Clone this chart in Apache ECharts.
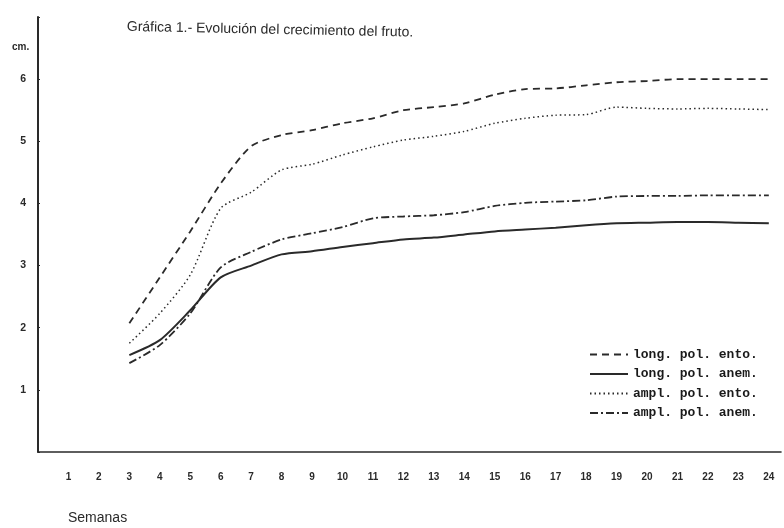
<!DOCTYPE html>
<html>
<head>
<meta charset="utf-8">
<script src="https://cdn.jsdelivr.net/npm/echarts@6/dist/echarts.min.js"></script>
<style>html,body{margin:0;padding:0;background:#fff}#c{width:784px;height:528px}</style>
</head>
<body>
<div id="c"></div>
<script>
var weeks = [3,4,5,6,7,8,9,10,11,12,13,14,15,16,17,18,19,20,21,22,23,24];
var longEnto = [2.07,2.81,3.55,4.32,4.92,5.10,5.18,5.29,5.37,5.50,5.55,5.61,5.75,5.84,5.85,5.90,5.95,5.97,6.00,6.00,6.00,6.00];
var longAnem = [1.56,1.80,2.28,2.81,3.00,3.18,3.23,3.30,3.36,3.42,3.45,3.50,3.55,3.58,3.61,3.65,3.68,3.69,3.70,3.70,3.69,3.68];
var amplEnto = [1.75,2.23,2.85,3.92,4.18,4.54,4.63,4.78,4.91,5.02,5.08,5.16,5.29,5.37,5.42,5.43,5.55,5.53,5.52,5.53,5.52,5.51];
var amplAnem = [1.43,1.72,2.23,2.97,3.22,3.42,3.52,3.62,3.76,3.79,3.81,3.86,3.96,4.01,4.03,4.05,4.11,4.12,4.12,4.13,4.13,4.13];
var seriesNames = ['long. pol. ento.','long. pol. anem.','ampl. pol. ento.','ampl. pol. anem.'];
var titleText = 'Gráfica 1.- Evolución del crecimiento del fruto.';
var xName = 'Semanas';
var yUnit = 'cm.';

function pairs(vals){ return weeks.map(function(w,i){ return [w, vals[i]]; }); }
var ink = '#2a2a2a';
function mk(name, vals, type, width){
  return { name:name, type:'line', data:pairs(vals), smooth:0.25, symbol:'none', showSymbol:false,
    lineStyle:{ color:ink, width:width, type:type }, itemStyle:{color:ink} };
}
var chart = echarts.init(document.getElementById('c'), null, {renderer:'canvas'});
chart.setOption({
  backgroundColor:'#fff',
  animation:false,
  grid:{ left:38, right:2, top:17, bottom:76, containLabel:false },
  xAxis:{ type:'value', min:0, max:24.4, interval:1,
    axisLine:{ show:true, lineStyle:{ color:ink, width:1.6 } },
    axisTick:{ show:false }, splitLine:{ show:false },
    axisLabel:{ margin:20, color:ink, fontFamily:'Liberation Sans', fontWeight:'bold', fontSize:10,
      formatter:function(v){ return (v>=1 && v<=24 && Math.abs(v-Math.round(v))<1e-9) ? String(v) : ''; } }
  },
  yAxis:{ type:'value', min:0, max:7, interval:1,
    axisLine:{ show:true, lineStyle:{ color:ink, width:2 } },
    axisTick:{ show:true, inside:true, length:2, lineStyle:{color:ink} }, splitLine:{ show:false },
    axisLabel:{ margin:12, color:ink, fontFamily:'Liberation Sans', fontWeight:'bold', fontSize:10.5,
      formatter:function(v){ return (v>=1 && v<=6) ? String(v) : ''; } }
  },
  legend:{ left:589, top:348, orient:'vertical', padding:0, itemWidth:38, itemHeight:12, itemGap:6.5,
    itemStyle:{ opacity:0 },
    textStyle:{ fontFamily:'Liberation Mono', fontWeight:'bold', fontSize:13, color:'#1a1a1a' },
    data:seriesNames },
  series:[
    mk(seriesNames[0], longEnto, [7,5], 1.8),
    mk(seriesNames[1], longAnem, 'solid', 2),
    mk(seriesNames[2], amplEnto, [1.5,3], 1.5),
    mk(seriesNames[3], amplAnem, [8,3,2,3], 1.8)
  ],
  graphic:[
    { type:'text', x:127, y:20, rotation:-0.02, style:{ text:titleText, fontFamily:'Liberation Sans', fontSize:14, fill:ink } },
    { type:'text', x:12, y:42, style:{ text:yUnit, fontFamily:'Liberation Sans', fontWeight:'bold', fontSize:10, fill:ink } },
    { type:'text', x:68, y:511, style:{ text:xName, fontFamily:'Liberation Sans', fontSize:14, fill:ink } }
  ]
});
</script>
</body>
</html>
